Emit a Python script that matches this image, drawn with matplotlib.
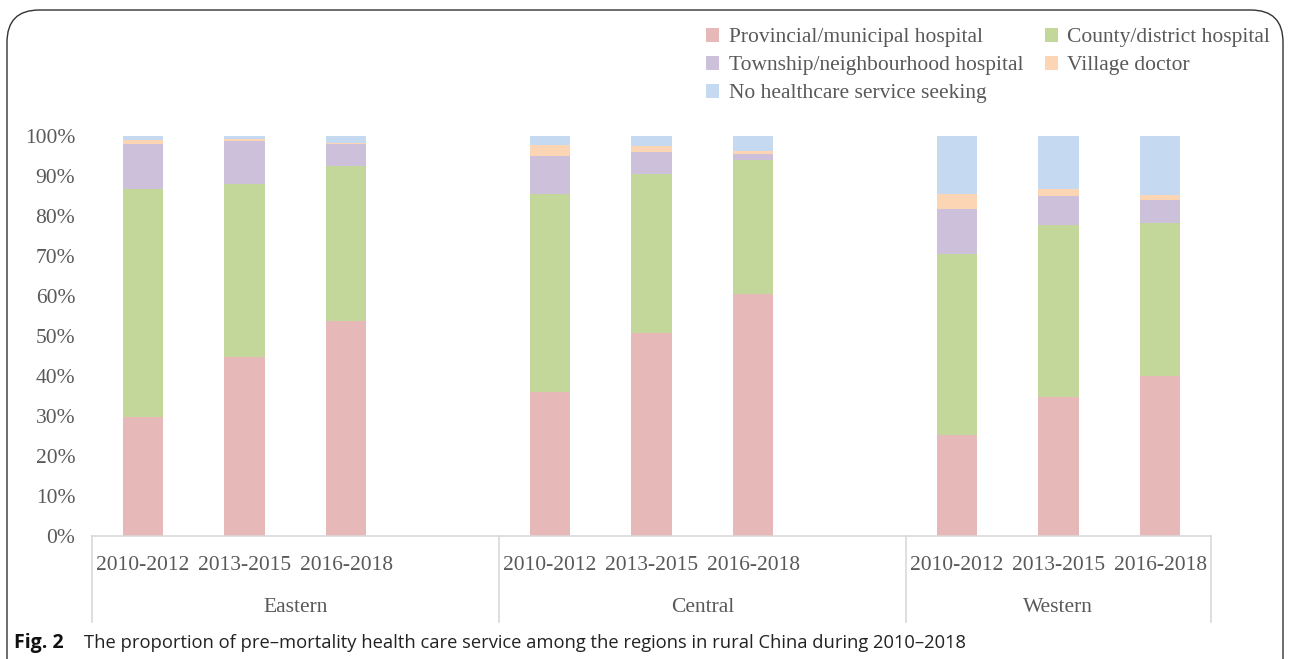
import matplotlib.pyplot as plt
from matplotlib.patches import FancyBboxPatch
from matplotlib.transforms import blended_transform_factory

# Data (percent of deaths per period)
regions = ["Eastern", "Central", "Western"]
periods = ["2010-2012", "2013-2015", "2016-2018"]
series_names = ["Provincial/municipal hospital", "County/district hospital",
                "Township/neighbourhood hospital", "Village doctor",
                "No healthcare service seeking"]

provincial = [29.8, 44.8, 53.8, 36.1, 50.8, 60.5, 25.3, 34.8, 40.0]
county = [56.9, 43.3, 38.7, 49.4, 39.6, 33.6, 45.2, 43.0, 38.3]
township = [11.3, 10.7, 5.5, 9.6, 5.7, 1.5, 11.2, 7.2, 5.7]
village = [1.0, 0.5, 0.3, 2.6, 1.3, 0.6, 3.8, 1.7, 1.3]
no_care = [1.0, 0.7, 1.7, 2.3, 2.6, 3.8, 14.5, 13.3, 14.7]

colors = ["#E6B8B7", "#C4D79B", "#CCC0DA", "#FCD5B4", "#C5D9F1"]

# Excel-style layout: blank slot after each region group
xpos = [0, 1, 2, 4, 5, 6, 8, 9, 10]

plt.rcParams['font.family'] = ['Liberation Serif', 'DejaVu Serif']
grey = "#595959"
fs = 15.5

fig = plt.figure(figsize=(12.89, 6.59), dpi=100)
ax = fig.add_axes([92 / 1289, 123 / 659, 1119 / 1289, 400 / 659])

bottom = [0.0] * len(xpos)
handles = []
for vals, col, name in zip([provincial, county, township, village, no_care], colors, series_names):
    b = ax.bar(xpos, vals, width=0.395, bottom=bottom, color=col, label=name, linewidth=0)
    handles.append(b)
    bottom = [bt + v for bt, v in zip(bottom, vals)]

ax.set_xlim(-0.5, 10.5)
ax.set_ylim(0, 100)
ax.set_yticks(range(0, 101, 10))
ax.set_yticklabels([f"{t}%" for t in range(0, 101, 10)], color=grey, fontsize=fs)
ax.tick_params(axis='y', length=0, pad=12)
ax.set_xticks([])
for s in ["top", "right", "left"]:
    ax.spines[s].set_visible(False)
ax.spines["bottom"].set_color("#D9D9D9")
ax.spines["bottom"].set_linewidth(1.2)

# multi-level category axis
tr = blended_transform_factory(ax.transData, ax.transAxes)
for x in [-0.5, 3.5, 7.5, 10.5]:
    ax.plot([x, x], [0, -0.215], transform=tr, color="#D9D9D9", lw=1.2, clip_on=False)
for i, x in enumerate(xpos):
    ax.text(x, -0.074, periods[i % 3], transform=tr, ha="center", va="center",
            color=grey, fontsize=fs)
for g, name in enumerate(regions):
    left = -0.5 + 4 * g
    right = min(left + 4, 10.5)
    ax.text((left + right) / 2, -0.178, name, transform=tr, ha="center", va="center",
            color=grey, fontsize=fs)

# legend filled row by row
order = [0, 2, 4, 1, 3]
leg = fig.legend([handles[i] for i in order], [series_names[i] for i in order],
                 ncol=2, loc="upper left", bbox_to_anchor=(706 / 1289, 1 - 28 / 659),
                 frameon=False, fontsize=fs, handlelength=0.6, handleheight=0.6,
                 handletextpad=0.45, columnspacing=1.0, labelspacing=0.4,
                 borderaxespad=0, borderpad=0)
for t in leg.get_texts():
    t.set_color(grey)

# rounded frame around the figure panel
frame = FancyBboxPatch((7 / 1289, -0.05), 1276 / 1289, 1 - 10 / 659 + 0.05,
                       boxstyle="round,pad=0,rounding_size=0.025",
                       transform=fig.transFigure, fill=False, ec="#333333", lw=1.0,
                       mutation_aspect=1289 / 659)
fig.patches.append(frame)

# caption
fig.text(14 / 1289, 1 - 643 / 659, "Fig. 2", fontsize=14, va="center",
         fontweight="bold", family=["Open Sans", "DejaVu Sans"], color="#111111")
fig.text(84 / 1289, 1 - 643 / 659,
         "The proportion of pre\u2013mortality health care service among the regions in rural China during 2010\u20132018",
         fontsize=13.2, va="center", family=["Open Sans", "DejaVu Sans"], color="#222222")

fig.savefig("out.png", dpi=100)
